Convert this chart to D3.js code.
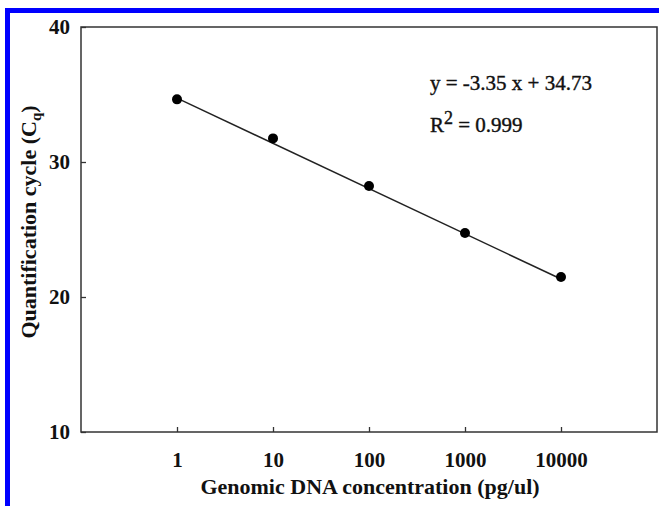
<!DOCTYPE html>
<html>
<head>
<script src="https://d3js.org/d3.v7.min.js"></script>
<style>
  body { margin: 0; background: #fff; }
  text { font-family: "Liberation Serif", serif; font-weight: bold; fill: #111; }
</style>
</head>
<body>
<svg id="chart" width="659" height="506"></svg>
<script>
// data
const concentrations = [1, 10, 100, 1000, 10000];
const cqValues = [34.64, 31.75, 28.22, 24.74, 21.48];
const xTickValues = [1, 10, 100, 1000, 10000];
const yTickValues = [10, 20, 30, 40];
const fitSlope = -3.35, fitIntercept = 34.73;

let svg = d3.select("#chart");

// blue frame (left and top edges)
svg.append("rect").attr("x", 5).attr("y", 8).attr("width", 5).attr("height", 498).attr("fill", "#0000ff");
svg.append("rect").attr("x", 5).attr("y", 8).attr("width", 654).attr("height", 5).attr("fill", "#0000ff");

let plotLeft = 81, plotRight = 657, plotTop = 27, plotBottom = 432;
let x = d3.scaleLog().domain([0.1, 100000]).range([plotLeft, plotRight]);
let y = d3.scaleLinear().domain([10, 40]).range([plotBottom, plotTop]);

// plot box
svg.append("rect")
  .attr("x", plotLeft).attr("y", plotTop)
  .attr("width", plotRight - plotLeft).attr("height", plotBottom - plotTop)
  .attr("fill", "none").attr("stroke", "#333").attr("stroke-width", 1.5);

// inward ticks
let xAxis = svg.append("g").attr("transform", `translate(0,${plotBottom})`)
  .call(d3.axisBottom(x).tickValues(xTickValues).tickSize(-5).tickPadding(20).tickFormat(d3.format("d")));
let yAxis = svg.append("g").attr("transform", `translate(${plotLeft},0)`)
  .call(d3.axisLeft(y).tickValues(yTickValues).tickSize(-5).tickPadding(11).tickFormat(d3.format("d")));
[xAxis, yAxis].forEach(a => {
  a.select(".domain").remove();
  a.selectAll("line").attr("stroke", "#333").attr("stroke-width", 1.3);
  a.selectAll("text").style("font-size", "21px").style("font-family", "Liberation Serif").style("font-weight", "bold").attr("fill", "#111");
});

// fit line
let fit = d3.line().x(d => x(d)).y(d => y(fitSlope * Math.log10(d) + fitIntercept));
svg.append("path").datum([1, 10000]).attr("d", fit)
  .attr("fill", "none").attr("stroke", "#222").attr("stroke-width", 1.5);

// points
svg.selectAll(".pt").data(concentrations).enter().append("circle")
  .attr("cx", d => x(d)).attr("cy", (d, i) => y(cqValues[i])).attr("r", 5).attr("fill", "#000");

// equation text
let eqStyle = t => t.style("font-family", "Liberation Serif").style("font-weight", "normal")
  .style("font-size", "21px").attr("stroke", "#111").attr("stroke-width", 0.4);
svg.append("text").attr("x", 430).attr("y", 90).call(eqStyle).text("y = -3.35 x + 34.73");
let r2 = svg.append("text").attr("x", 430).attr("y", 132).call(eqStyle);
r2.append("tspan").text("R");
r2.append("tspan").attr("dy", -8).style("font-size", "18px").text("2");
r2.append("tspan").attr("dy", 8).text(" = 0.999");

// axis titles
svg.append("text").attr("x", 370).attr("y", 494).attr("text-anchor", "middle")
  .style("font-size", "22px").text("Genomic DNA concentration (pg/ul)");
let yt = svg.append("text").attr("transform", "translate(36,222) rotate(-90)")
  .attr("text-anchor", "middle").style("font-size", "22px");
yt.append("tspan").text("Quantification cycle (C");
yt.append("tspan").attr("dy", 5).style("font-size", "15px").text("q");
yt.append("tspan").attr("dy", -5).text(")");
</script>
</body>
</html>
